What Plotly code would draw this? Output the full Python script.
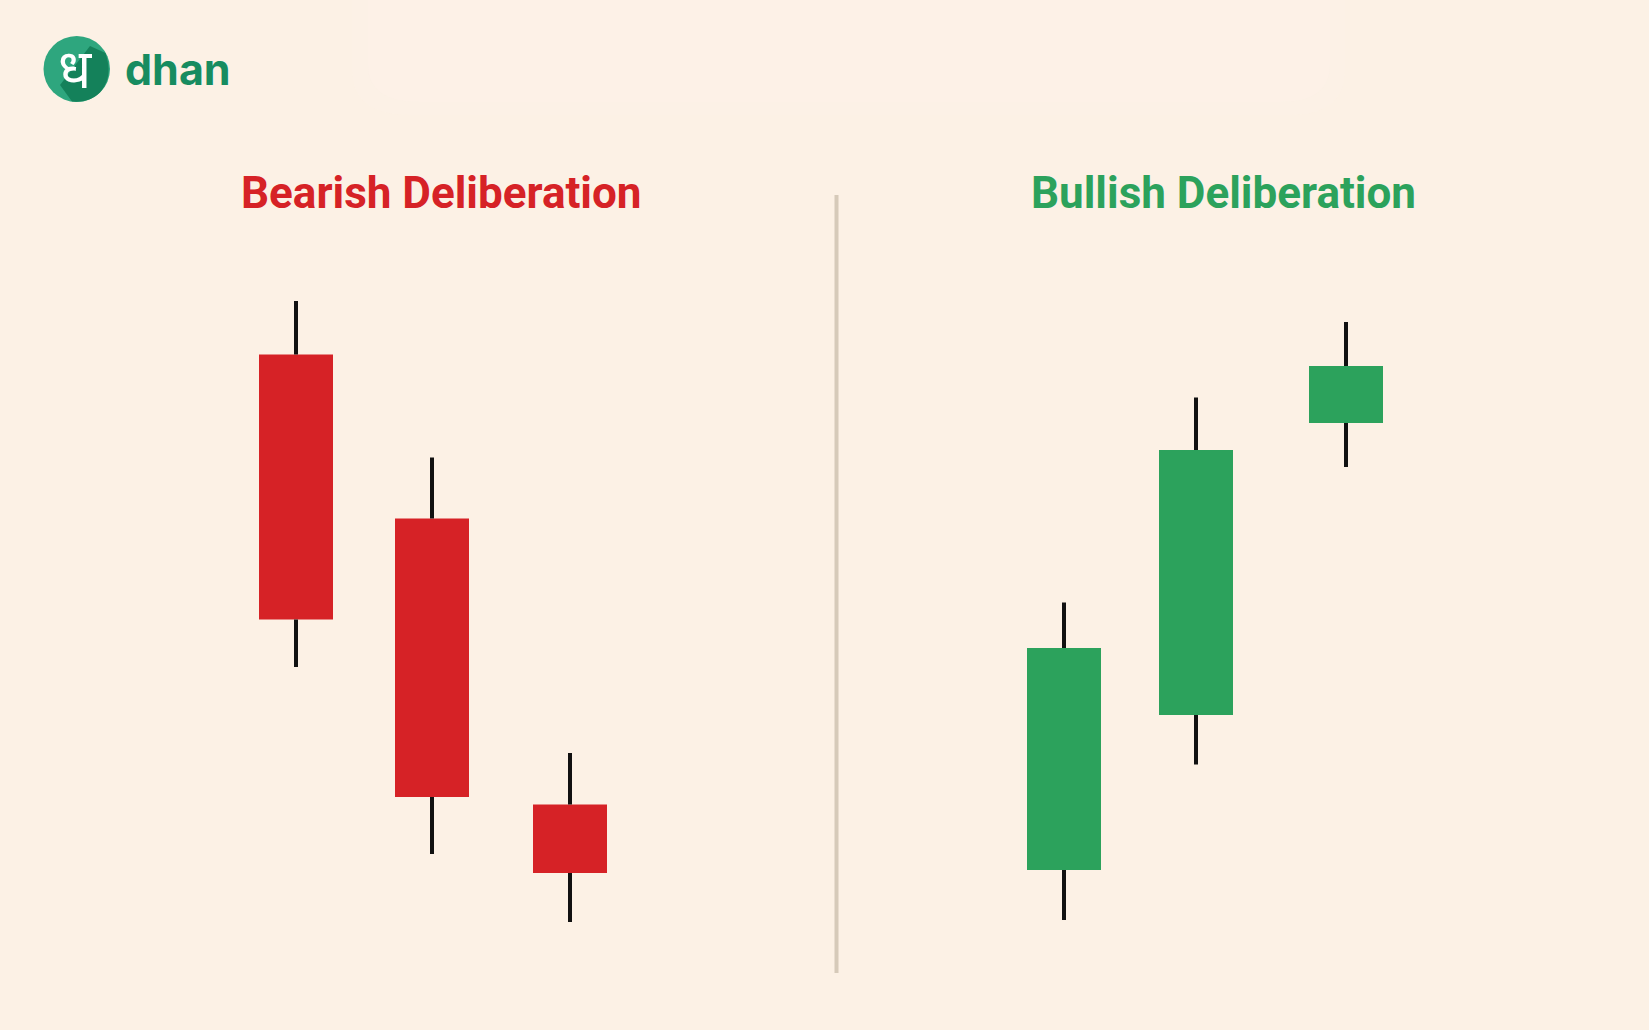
import plotly.graph_objects as go

# candle values (y axis is just price-like units, no scale shown)
bear_x = [296, 432, 570]
bear_open = [675.5, 511.5, 225.5]
bear_close = [410.5, 233, 157]
bear_high = [729, 572.5, 277]
bear_low = [363, 176, 108]

bull_x = [1064, 1196, 1346]
bull_open = [160, 315, 607]
bull_close = [382, 580, 664]
bull_high = [427.5, 632.5, 708]
bull_low = [110, 265.5, 563]

titles = ['Bearish Deliberation', 'Bullish Deliberation']
logo_text = 'dhan'
logo_glyph = 'ध'

# some common configs
W = 1649
H = 1030
bgcolor = '#FCF1E5'
red = '#D62226'
green = '#2CA25C'
logo_green = '#178C60'
candle_width = 74


def add_candles(fig, x, opens, closes, highs, lows, color):
    # body is a floating bar, wicks only run outside of the body
    tops = [max(o, c) for o, c in zip(opens, closes)]
    bottoms = [min(o, c) for o, c in zip(opens, closes)]

    wick_x = []
    wick_y = []
    for i in range(len(x)):
        wick_x += [x[i], x[i], None, x[i], x[i], None]
        wick_y += [highs[i], tops[i], None, bottoms[i], lows[i], None]

    fig.add_trace(go.Scatter(x=wick_x, y=wick_y, mode='lines',
                             line=dict(color='#111111', width=4),
                             hoverinfo='skip', showlegend=False))
    fig.add_trace(go.Bar(x=x, y=[t - b for t, b in zip(tops, bottoms)], base=bottoms,
                         width=candle_width, marker=dict(color=color, line=dict(width=0)),
                         showlegend=False))


fig = go.Figure()
add_candles(fig, bear_x, bear_open, bear_close, bear_high, bear_low, red)
add_candles(fig, bull_x, bull_open, bull_close, bull_high, bull_low, green)

shapes = [
    # pale patch at the top of the page, stacked so the edge fades out
    dict(type='path', xref='x', yref='y', fillcolor='#FFF5EA', opacity=0.2, line=dict(width=0), layer='below',
         path='M 352 1030 L 1345 1030 L 1345 960 Q 1345 915 1290 915 L 410 915 Q 352 915 352 960 Z'),
    dict(type='path', xref='x', yref='y', fillcolor='#FFF5EA', opacity=0.25, line=dict(width=0), layer='below',
         path='M 368 1030 L 1330 1030 L 1330 965 Q 1330 928 1280 928 L 420 928 Q 368 928 368 965 Z'),
    # divider
    dict(type='line', xref='x', yref='y', x0=836.5, x1=836.5, y0=57, y1=835,
         line=dict(color='#D6CAB9', width=4), layer='below'),
    # logo disc with the darker long shadow on the lower right
    dict(type='circle', xref='x', yref='y', x0=43.5, x1=110, y0=928, y1=994,
         fillcolor='#2EA67E', line=dict(width=0)),
    dict(type='path', xref='x', yref='y', fillcolor='#14815A', line=dict(width=0),
         path='M 90 984 L 105.5 977 Q 113 955 102 940 Q 92 927 72 928.4 L 60 945 Z'),
]

annotations = [
    dict(x=75, y=963, text=logo_glyph, showarrow=False, xref='x', yref='y',
         font=dict(family='Noto Sans, DejaVu Sans', size=54, color='white')),
    dict(x=123, y=961, text='<b>%s</b>' % logo_text, showarrow=False, xref='x', yref='y', xanchor='left',
         font=dict(family='Inter', size=43, color=logo_green)),
    dict(x=441, y=837, text='<b>%s</b>' % titles[0], showarrow=False, xref='x', yref='y',
         font=dict(family='Roboto', size=44, color=red)),
    dict(x=1223, y=837, text='<b>%s</b>' % titles[1], showarrow=False, xref='x', yref='y',
         font=dict(family='Roboto', size=44, color=green)),
]

fig.update_layout(
    width=W,
    height=H,
    margin=dict(l=0, r=0, t=0, b=0),
    paper_bgcolor=bgcolor,
    plot_bgcolor=bgcolor,
    barmode='overlay',
    xaxis=dict(range=[0, W], visible=False),
    yaxis=dict(range=[0, H], visible=False),
    shapes=shapes,
    annotations=annotations,
)

fig.write_html("out.html", config=dict(displayModeBar=False),
               post_script="document.body.style.margin='0';document.body.style.background='%s';" % bgcolor)
